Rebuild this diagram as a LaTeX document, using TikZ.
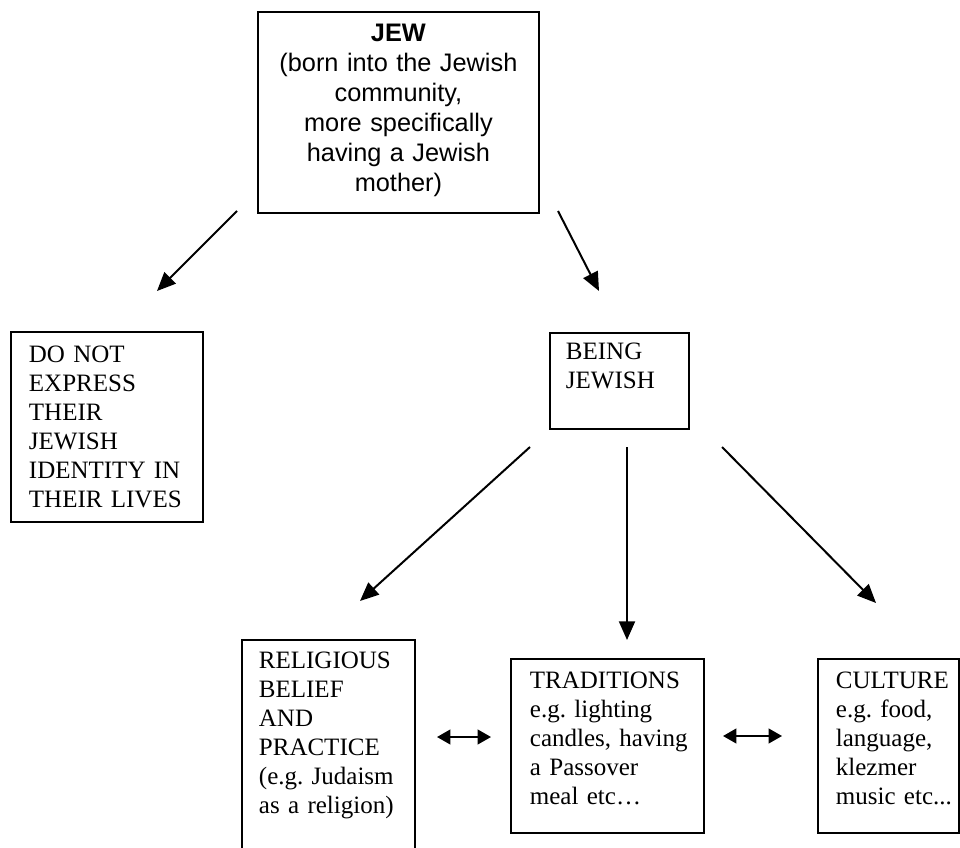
\documentclass[tikz,border=0pt]{standalone}
\usepackage{fontspec}
\setmainfont{Liberation Serif}
\newfontfamily\arialfont{Liberation Sans}
\usetikzlibrary{arrows.meta}
\hyphenpenalty=10000

\begin{document}
\begin{tikzpicture}[x=0.75pt, y=-0.75pt,
  box/.style={draw, line width=1.4pt, anchor=north west, inner ysep=0pt, align=left,
    font=\fontsize{18.75pt}{21.75pt}\selectfont},
  arr/.style={-{Triangle[length=14pt,width=12pt]}, line width=1.5pt},
  dblarr/.style={{Triangle[length=10pt,width=11pt]}-{Triangle[length=10pt,width=11pt]}, line width=1.5pt}]
  \useasboundingbox (0,0) rectangle (960,848);

  \node[box, align=center, inner xsep=0pt, text width=210.75pt, text height=22.3pt, text depth=128.5pt,
    font=\arialfont\fontsize{19pt}{22.5pt}\selectfont] (jew) at (257,11)
    {\textbf{JEW}\\(born into the Jewish\\community,\\more specifically\\having a Jewish\\mother)};
  \node[box, inner xsep=13.5pt, text width=117pt, text height=23pt, text depth=119.5pt] (noexpr) at (10,331)
    {DO NOT\\EXPRESS\\THEIR\\JEWISH\\IDENTITY~IN\\THEIR~LIVES};
  \node[box, inner xsep=12pt, text width=80.25pt, text height=20.25pt, text depth=51.75pt] (being) at (549,332)
    {BEING\\JEWISH};

  \node[box, inner xsep=12.75pt, text width=104.25pt, text height=21.75pt, text depth=158.25pt] (relig) at (241,639)
    {RELIGIOUS\\BELIEF\\AND\\PRACTICE\\(e.g.~Judaism\\as~a~religion)};
  \node[box, inner xsep=14.25pt, text width=116.25pt, text height=22.5pt, text depth=108pt] (trad) at (510,658)
    {TRADITIONS\\e.g.~lighting\\candles,~having\\a~Passover\\meal~etc…};
  \node[box, inner xsep=13.5pt, text width=78.75pt, text height=22.5pt, text depth=108pt] (cult) at (817,658)
    {CULTURE\\e.g.~food,\\language,\\klezmer\\music~etc...};

  % arrows between the boxes
  \coordinate (jewl) at (237,211);
  \coordinate (noexprt) at (157,291);
  \coordinate (jewr) at (558,211);
  \coordinate (beingt) at (599,291);
  \coordinate (beingl) at (530,447);
  \coordinate (beingm) at (627,447);
  \coordinate (beingr) at (722,447);
  \coordinate (religt) at (360,601);
  \coordinate (tradt) at (627,640);
  \coordinate (cultt) at (876,603);
  \draw[arr] (jewl) -- (noexprt);
  \draw[arr] (jewr) -- (beingt);
  \draw[arr] (beingl) -- (religt);
  \draw[arr] (beingm) -- (tradt);
  \draw[arr] (beingr) -- (cultt);

  \coordinate (rt1) at (437,737);
  \coordinate (rt2) at (491,737);
  \coordinate (tc1) at (723,736);
  \coordinate (tc2) at (782,736);
  \draw[dblarr] (rt1) -- (rt2);
  \draw[dblarr] (tc1) -- (tc2);
\end{tikzpicture}
\end{document}
